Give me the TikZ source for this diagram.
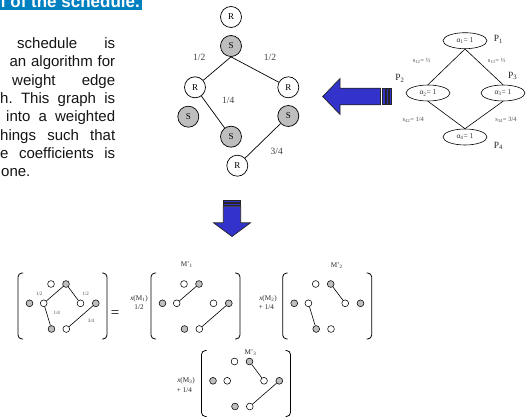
\documentclass[tikz,border=0pt]{standalone}
\usepackage{fontspec}
\setmainfont{Liberation Serif}
\newfontfamily\arialfont{Liberation Sans}
\usetikzlibrary{shapes.geometric}
\definecolor{barblue}{RGB}{0,128,192}
\definecolor{arrblue}{RGB}{51,51,204}
\definecolor{dotgray}{RGB}{190,190,190}
\definecolor{lblgray}{RGB}{80,80,80}
\newcommand\dotgrid[1]{%
  \node[odot] (#1ot) at (-11.5,11) {};
  \node[gdot] (#1gt) at (3.5,11) {};
  \node[gdot] (#1gl) at (-33,30.3) {};
  \node[odot] (#1ol) at (-18.8,30.3) {};
  \node[odot] (#1or) at (18,30.3) {};
  \node[gdot] (#1gr) at (33.3,30.3) {};
  \node[gdot] (#1gb) at (-11,56) {};
  \node[odot] (#1ob) at (3.8,56) {};
  \draw[brk] (-39.5,0) -- (-44.5,0) -- (-44.5,66) -- (-39.5,66);
  \draw[brk] (39.5,0) -- (44.5,0) -- (44.5,66) -- (39.5,66);
}
\begin{document}
\begin{tikzpicture}[x=1pt,y=-1pt,
  para/.style={anchor=base west, inner sep=0, text=black!92,
    font=\arialfont\fontsize{15}{18}\selectfont},
  tnode/.style={circle, draw, line width=0.7, minimum size=21, inner sep=0,
    fill=white, font=\fontsize{9}{9}\selectfont},
  snode/.style={tnode, fill=dotgray},
  tlbl/.style={inner sep=0, text=black!75, font=\fontsize{9.5}{9.5}\selectfont},
  tedge/.style={line width=0.7},
  ell/.style={ellipse, draw, line width=0.6, minimum width=44, minimum height=16,
    inner sep=0, text=black!80, font=\fontsize{7.5}{7.5}\selectfont},
  plbl/.style={inner sep=0, text=black!85, font=\fontsize{9.5}{9.5}\selectfont},
  slbl/.style={inner sep=0, text=lblgray, font=\fontsize{6.5}{6.5}\selectfont},
  gedge/.style={line width=0.6},
  arrowbody/.style={fill=arrblue, draw=black!85, line width=0.7, line join=miter},
  odot/.style={circle, draw, line width=0.55, minimum size=6.8, inner sep=0, fill=white},
  gdot/.style={odot, fill=dotgray},
  brk/.style={line width=0.8, rounded corners=4},
  dedge/.style={line width=0.6},
  mlbl/.style={inner sep=0, text=black!70, font=\fontsize{5}{5}\selectfont},
  xlbl/.style={inner sep=0, text=black!85, font=\fontsize{7.2}{7.2}\selectfont}]
\path[use as bounding box, clip] (0,0) rectangle (527,417);
\fill[white] (0,0) rectangle (527,417);

% header bar
\fill[barblue] (0,0) rectangle (142,10.3);
\begin{scope}
  \clip (0,0) rectangle (142,10.3);
  \node[anchor=base east, inner sep=0, text=white,
    font=\arialfont\bfseries\fontsize{17}{17}\selectfont] (title) at (140,7.5) {l of the schedule.};
\end{scope}

% paragraph
\node[para] (p1) at (17,48.5) {\hbox to 98pt{schedule\hfill is}};
\node[para] (p2) at (9.3,66.8) {\hbox to 105.7pt{an\hfill algorithm\hfill for}};
\node[para] (p3) at (12,85.1) {\hbox to 103pt{weight\hfill edge}};
\node[para] (p4) at (0,103.4) {\hbox to 115pt{h.\hfill This\hfill graph\hfill is}};
\node[para] (p5) at (6,121.7) {\hbox to 109pt{into\hfill a\hfill weighted}};
\node[para] (p6) at (0,140) {\hbox to 115pt{hings\hfill such\hfill that}};
\node[para] (p7) at (0,158.3) {\hbox to 115pt{e\hfill coefficients\hfill is}};
\node[para] (p8) at (1,176.6) {one.};

% tree
\node[tnode] (rt) at (231,17) {R};
\node[snode] (st) at (231,46) {S};
\node[tnode] (rl) at (195,87.3) {R};
\node[tnode] (rr) at (288.3,87.3) {R};
\node[snode] (sl) at (188.3,116.7) {S};
\node[snode] (sm) at (231,136.7) {S};
\node[snode] (sr) at (288.3,116) {S};
\node[tnode] (rb) at (237.3,165.7) {R};
\draw[tedge] (st.south) -- (rl);
\draw[tedge] (st.south) -- (rr);
\draw[tedge] (rl) -- (sm);
\draw[tedge] (sr) -- (rb);
\node[tlbl] (t1) at (199.3,57.3) {1/2};
\node[tlbl] (t2) at (270,57.3) {1/2};
\node[tlbl] (t3) at (228.3,100) {1/4};
\node[tlbl] (t4) at (276.7,151.7) {3/4};

% left arrow
\draw[arrowbody] (322.7,96.5) -- (340,78.5) -- (340,88.2) -- (380.5,88.2)
  -- (380.5,104.8) -- (340,104.8) -- (340,114.5) -- cycle;
\draw[arrowbody] (382,88.2) rectangle (385,104.8);
\draw[arrowbody] (386.3,88.2) rectangle (388.3,104.8);
\draw[arrowbody] (389.5,88.2) rectangle (391,104.8);

% down arrow
\draw[arrowbody] (232,236.5) -- (213.5,222.8) -- (223.3,222.8) -- (223.3,206.3)
  -- (240.7,206.3) -- (240.7,222.8) -- (250.5,222.8) -- cycle;
\draw[arrowbody] (223.3,200) rectangle (240.7,202.3);
\draw[arrowbody] (223.3,203.3) rectangle (240.7,205.3);

% right graph
\node[ell] (a1) at (465,40.7) {α\textsubscript{1}= 1};
\node[ell] (a2) at (428,93) {α\textsubscript{2}= 1};
\node[ell] (a3) at (503,93) {α\textsubscript{3}= 1};
\node[ell] (a4) at (465,137) {α\textsubscript{4}= 1};
\draw[gedge] (a1.south) -- (a2.north);
\draw[gedge] (a1.south) -- (a3.north);
\draw[gedge] (a2.south) -- (a4.north);
\draw[gedge] (a3.south) -- (a4.north);
\node[plbl] (P1) at (498.3,39.3) {P\textsubscript{1}};
\node[plbl] (P2) at (400,78.3) {P\textsubscript{2}};
\node[plbl] (P3) at (512.7,76) {P\textsubscript{3}};
\node[plbl] (P4) at (498.3,146) {P\textsubscript{4}};
\node[slbl] (s12) at (421.7,60.7) {s\textsubscript{12}= ½};
\node[slbl] (s13) at (496.7,60.7) {s\textsubscript{13}= ½};
\node[slbl] (s42) at (413.3,120) {s\textsubscript{42}= 1/4};
\node[slbl] (s34) at (506,120) {s\textsubscript{34}= 3/4};

% matrix 0
\begin{scope}[shift={(62.5,273)}]
  \dotgrid{m0}
  \draw[dedge] (m0gt) -- (m0ol);
  \draw[dedge] (m0gt) -- (m0or);
  \draw[dedge] (m0ol) -- (m0gb);
  \draw[dedge] (m0gr) -- (m0ob);
  \node[mlbl] (m0l1) at (-23.2,21) {1/2};
  \node[mlbl] (m0l2) at (23.2,21) {1/2};
  \node[mlbl] (m0l3) at (-5.8,40.3) {1/4};
  \node[mlbl] (m0l4) at (28.5,48) {3/4};
\end{scope}
\node[inner sep=0, font=\fontsize{15}{15}\selectfont] (eq) at (115,314) {=};

% M1
\begin{scope}[shift={(195.5,273)}]
  \dotgrid{m1}
  \draw[dedge] (m1gt) -- (m1ol);
  \draw[dedge] (m1gr) -- (m1ob);
\end{scope}
\node[xlbl] (M1t) at (186.7,265) {M’\textsubscript{1}};
\node[xlbl] (x1a) at (139,298.5) {\textit{x}(M\textsubscript{1})};
\node[xlbl] (x1b) at (139,307.5) {1/2};

% M2
\begin{scope}[shift={(327.2,273)}]
  \dotgrid{m2}
  \draw[dedge] (m2gt) -- (m2or);
  \draw[dedge] (m2ol) -- (m2gb);
\end{scope}
\node[xlbl] (M2t) at (336.7,266) {M’\textsubscript{2}};
\node[xlbl] (x2a) at (268,298.5) {\textit{x}(M\textsubscript{2})};
\node[xlbl] (x2b) at (266.5,307.5) {+ 1/4};

% M3
\begin{scope}[shift={(246,350.5)}]
  \dotgrid{m3}
  \draw[dedge] (m3gt) -- (m3or);
  \draw[dedge] (m3gr) -- (m3ob);
\end{scope}
\node[xlbl] (M3t) at (250.5,352.5) {M’\textsubscript{3}};
\node[xlbl] (x3a) at (186,381) {\textit{x}(M\textsubscript{3})};
\node[xlbl] (x3b) at (184.5,390.5) {+ 1/4};
\end{tikzpicture}
\end{document}
